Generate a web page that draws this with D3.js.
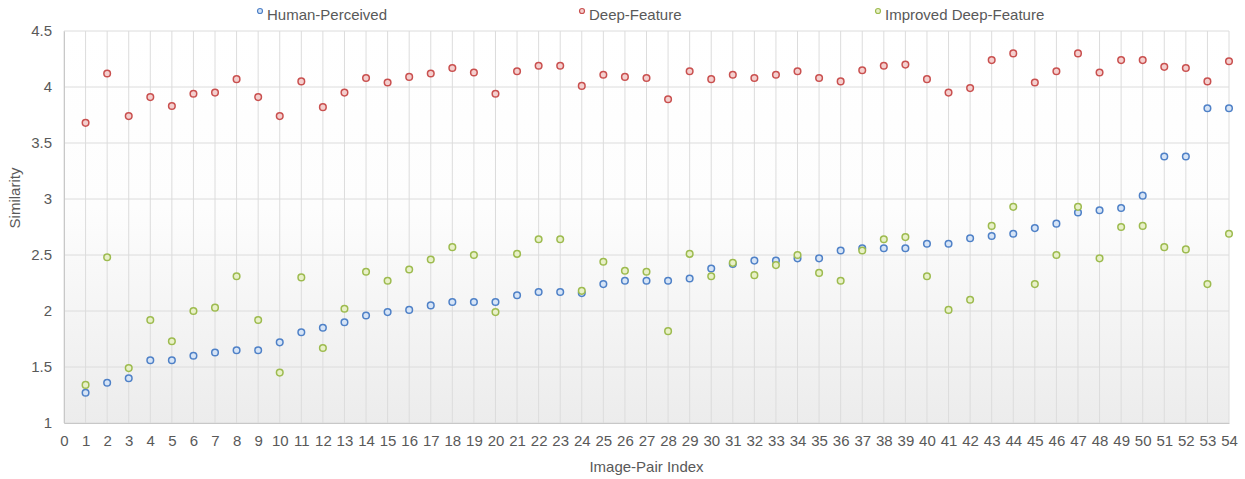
<!DOCTYPE html>
<html>
<head>
<meta charset="utf-8">
<script src="https://cdn.jsdelivr.net/npm/d3@7"></script>
<style>
  body { margin: 0; background: #fff; }
  text { font-family: "Helvetica Neue", "Liberation Sans", Arial, sans-serif; fill: #595959; }
</style>
</head>
<body>
<svg id="chart"></svg>
<script>
// 数据
var pairIndex = d3.range(1, 55);
var humanPerceived = [1.27, 1.36, 1.40, 1.56, 1.56, 1.60, 1.63, 1.65, 1.65, 1.72,
  1.81, 1.85, 1.90, 1.96, 1.99, 2.01, 2.05, 2.08, 2.08, 2.08,
  2.14, 2.17, 2.17, 2.16, 2.24, 2.27, 2.27, 2.27, 2.29, 2.38,
  2.42, 2.45, 2.45, 2.47, 2.47, 2.54, 2.56, 2.56, 2.56, 2.60,
  2.60, 2.65, 2.67, 2.69, 2.74, 2.78, 2.88, 2.90, 2.92, 3.03,
  3.38, 3.38, 3.81, 3.81];
var deepFeature = [3.68, 4.12, 3.74, 3.91, 3.83, 3.94, 3.95, 4.07, 3.91, 3.74,
  4.05, 3.82, 3.95, 4.08, 4.04, 4.09, 4.12, 4.17, 4.13, 3.94,
  4.14, 4.19, 4.19, 4.01, 4.11, 4.09, 4.08, 3.89, 4.14, 4.07,
  4.11, 4.08, 4.11, 4.14, 4.08, 4.05, 4.15, 4.19, 4.20, 4.07,
  3.95, 3.99, 4.24, 4.30, 4.04, 4.14, 4.30, 4.13, 4.24, 4.24,
  4.18, 4.17, 4.05, 4.23];
var improvedDeep = [1.34, 2.48, 1.49, 1.92, 1.73, 2.00, 2.03, 2.31, 1.92, 1.45,
  2.30, 1.67, 2.02, 2.35, 2.27, 2.37, 2.46, 2.57, 2.50, 1.99,
  2.51, 2.64, 2.64, 2.18, 2.44, 2.36, 2.35, 1.82, 2.51, 2.31,
  2.43, 2.32, 2.41, 2.50, 2.34, 2.27, 2.54, 2.64, 2.66, 2.31,
  2.01, 2.10, 2.76, 2.93, 2.24, 2.50, 2.93, 2.47, 2.75, 2.76,
  2.57, 2.55, 2.24, 2.69];
var yTicks = [1, 1.5, 2, 2.5, 3, 3.5, 4, 4.5];
var xTicks = d3.range(0, 55);

var seriesNames = ["Human-Perceived", "Deep-Feature", "Improved Deep-Feature"];
var seriesData = [humanPerceived, deepFeature, improvedDeep];
var strokes = ["#4f81c7", "#c9504f", "#9dbb4f"];
var fills = ["#d6e4f6", "#f4cfce", "#e8f0c8"];

// 尺寸
var width = 1245, height = 479;
var margin = {top: 31, right: 16, bottom: 56, left: 64};

var svg = d3.select("#chart")
  .attr("width", width)
  .attr("height", height);

var x = d3.scaleLinear()
  .domain([0, 54])
  .range([margin.left, width - margin.right]);

var y = d3.scaleLinear()
  .domain([1, 4.5])
  .range([height - margin.bottom, margin.top]);

// 背景渐变
var grad = svg.append("defs").append("linearGradient")
  .attr("id", "bg")
  .attr("x1", 0).attr("y1", 0).attr("x2", 0).attr("y2", 1);
grad.append("stop").attr("offset", "0%").attr("stop-color", "#ffffff");
grad.append("stop").attr("offset", "45%").attr("stop-color", "#fdfdfd");
grad.append("stop").attr("offset", "100%").attr("stop-color", "#ececec");

svg.append("rect")
  .attr("x", x(0))
  .attr("y", y(4.5))
  .attr("width", x(54) - x(0))
  .attr("height", y(1) - y(4.5))
  .attr("fill", "url(#bg)");

// 网格线
svg.append("g")
  .selectAll("line.h")
  .data(yTicks)
  .join("line")
  .attr("x1", x(0)).attr("x2", x(54))
  .attr("y1", d => y(d)).attr("y2", d => y(d))
  .attr("stroke", "#dcdcdc")
  .attr("stroke-width", 1);

svg.append("g")
  .selectAll("line.v")
  .data(xTicks)
  .join("line")
  .attr("x1", d => x(d)).attr("x2", d => x(d))
  .attr("y1", y(4.5)).attr("y2", y(1))
  .attr("stroke", "#dcdcdc")
  .attr("stroke-width", 1);

// 坐标轴
var xAxis = svg.append("g")
  .attr("transform", `translate(0,${y(1)})`)
  .call(d3.axisBottom(x).tickValues(xTicks).tickSize(0).tickPadding(12).tickFormat(d3.format("d")));
xAxis.select(".domain").attr("stroke", "#c8c8c8");
xAxis.selectAll("text").style("font-size", "15px").attr("fill", "#595959");

var yAxis = svg.append("g")
  .attr("transform", `translate(${x(0)},0)`)
  .call(d3.axisLeft(y).tickValues(yTicks).tickSize(0).tickPadding(12).tickFormat(d => String(d)));
yAxis.select(".domain").attr("stroke", "#c8c8c8");
yAxis.selectAll("text").style("font-size", "15px").attr("fill", "#595959");

// 坐标轴标题
svg.append("text")
  .attr("x", x(27))
  .attr("y", 472)
  .attr("text-anchor", "middle")
  .style("font-size", "15px")
  .text("Image-Pair Index");

svg.append("text")
  .attr("transform", "translate(20,198) rotate(-90)")
  .attr("text-anchor", "middle")
  .style("font-size", "15px")
  .text("Similarity");

// 散点
seriesData.forEach((vals, i) => {
  svg.append("g")
    .selectAll("circle")
    .data(vals)
    .join("circle")
    .attr("cx", (d, j) => x(pairIndex[j]))
    .attr("cy", d => y(d))
    .attr("r", 3.3)
    .attr("fill", fills[i])
    .attr("stroke", strokes[i])
    .attr("stroke-width", 1.5);
});

// 图例
var legendX = [260, 582, 878];
seriesNames.forEach((name, i) => {
  svg.append("circle")
    .attr("cx", legendX[i])
    .attr("cy", 11)
    .attr("r", 2.5)
    .attr("fill", fills[i])
    .attr("stroke", strokes[i])
    .attr("stroke-width", 1.2);
  svg.append("text")
    .attr("x", legendX[i] + 7)
    .attr("y", 20)
    .style("font-size", "15px")
    .text(name);
});
</script>
</body>
</html>
